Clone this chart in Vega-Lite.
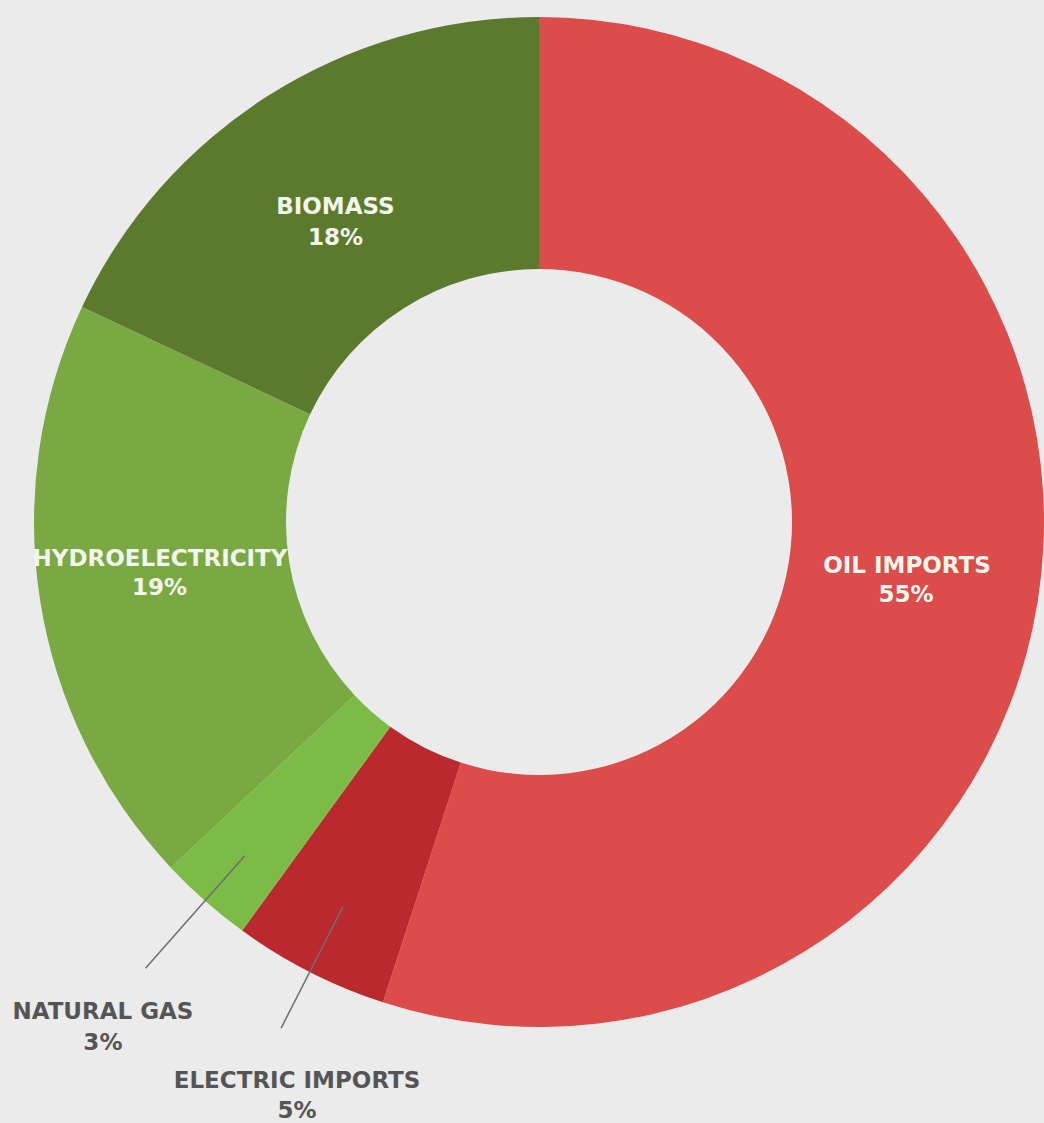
{
  "$schema": "https://vega.github.io/schema/vega-lite/v6.json",
  "autosize": "none",
  "padding": {"left": 34, "top": 0, "right": 0, "bottom": 79},
  "width": 1010,
  "height": 1044,
  "background": "#ebebeb",
  "view": {"stroke": null},
  "data": {
    "values": [
      {"source": "OIL IMPORTS", "share": 0.55, "rank": 1},
      {"source": "ELECTRIC IMPORTS", "share": 0.05, "rank": 2},
      {"source": "NATURAL GAS", "share": 0.03, "rank": 3},
      {"source": "HYDROELECTRICITY", "share": 0.19, "rank": 4},
      {"source": "BIOMASS", "share": 0.18, "rank": 5}
    ]
  },
  "encoding": {
    "theta": {"field": "share", "type": "quantitative", "stack": true},
    "order": {"field": "rank", "type": "quantitative"}
  },
  "layer": [
    {
      "mark": {"type": "arc", "innerRadius": 253, "outerRadius": 505},
      "encoding": {
        "color": {
          "field": "source",
          "type": "nominal",
          "scale": {
            "domain": ["OIL IMPORTS", "ELECTRIC IMPORTS", "NATURAL GAS", "HYDROELECTRICITY", "BIOMASS"],
            "range": ["#db4c4a", "#b9292d", "#7dbb47", "#7aa944", "#5c7a2e"]
          },
          "legend": null
        }
      }
    },
    {
      "mark": {"type": "arc", "innerRadius": 445, "outerRadius": 595, "padAngle": 2, "fillOpacity": 0, "stroke": "#6e6e6e", "strokeWidth": 1.5},
      "encoding": {
        "strokeOpacity": {"condition": {"test": "datum.rank === 3", "value": 1}, "value": 0}
      }
    },
    {
      "mark": {"type": "arc", "innerRadius": 432, "outerRadius": 568, "padAngle": 2, "fillOpacity": 0, "stroke": "#6e6e6e", "strokeWidth": 1.5},
      "encoding": {
        "strokeOpacity": {"condition": {"test": "datum.rank === 2", "value": 1}, "value": 0}
      }
    },
    {
      "mark": {"type": "text", "radius": 365, "dx": 7.5, "dy": -13, "font": "DejaVu Sans", "fontWeight": "bold", "fontSize": 23, "fill": "#f3f6ec", "baseline": "middle", "align": "center"},
      "encoding": {"text": {"condition": {"test": "datum.rank === 1", "field": "source"}, "value": ""}}
    },
    {
      "mark": {"type": "text", "radius": 365, "dx": 6.5, "dy": 16, "font": "DejaVu Sans", "fontWeight": "bold", "fontSize": 23, "fill": "#f3f6ec", "baseline": "middle", "align": "center"},
      "encoding": {"text": {"condition": {"test": "datum.rank === 1", "field": "share", "format": ".0%"}, "value": ""}}
    },
    {
      "mark": {"type": "text", "radius": 365, "dx": -18.5, "dy": -20, "font": "DejaVu Sans", "fontWeight": "bold", "fontSize": 23, "fill": "#f3f6ec", "baseline": "middle", "align": "center"},
      "encoding": {"text": {"condition": {"test": "datum.rank === 4", "field": "source"}, "value": ""}}
    },
    {
      "mark": {"type": "text", "radius": 365, "dx": -19, "dy": 9, "font": "DejaVu Sans", "fontWeight": "bold", "fontSize": 23, "fill": "#f3f6ec", "baseline": "middle", "align": "center"},
      "encoding": {"text": {"condition": {"test": "datum.rank === 4", "field": "share", "format": ".0%"}, "value": ""}}
    },
    {
      "mark": {"type": "text", "radius": 365, "dx": -8, "dy": -7, "font": "DejaVu Sans", "fontWeight": "bold", "fontSize": 23, "fill": "#f3f6ec", "baseline": "middle", "align": "center"},
      "encoding": {"text": {"condition": {"test": "datum.rank === 5", "field": "source"}, "value": ""}}
    },
    {
      "mark": {"type": "text", "radius": 365, "dx": -8, "dy": 24, "font": "DejaVu Sans", "fontWeight": "bold", "fontSize": 23, "fill": "#f3f6ec", "baseline": "middle", "align": "center"},
      "encoding": {"text": {"condition": {"test": "datum.rank === 5", "field": "share", "format": ".0%"}, "value": ""}}
    },
    {
      "mark": {"type": "text", "radius": 667, "dx": 5, "dy": -10, "font": "DejaVu Sans", "fontWeight": "bold", "fontSize": 23, "fill": "#555555", "baseline": "middle", "align": "center"},
      "encoding": {"text": {"condition": {"test": "datum.rank === 3", "field": "source"}, "value": ""}}
    },
    {
      "mark": {"type": "text", "radius": 667, "dx": 5, "dy": 21, "font": "DejaVu Sans", "fontWeight": "bold", "fontSize": 23, "fill": "#555555", "baseline": "middle", "align": "center"},
      "encoding": {"text": {"condition": {"test": "datum.rank === 3", "field": "share", "format": ".0%"}, "value": ""}}
    },
    {
      "mark": {"type": "text", "radius": 620, "dx": 39.5, "dy": 6.5, "font": "DejaVu Sans", "fontWeight": "bold", "fontSize": 23, "fill": "#555555", "baseline": "middle", "align": "center"},
      "encoding": {"text": {"condition": {"test": "datum.rank === 2", "field": "source"}, "value": ""}}
    },
    {
      "mark": {"type": "text", "radius": 620, "dx": 39.5, "dy": 37, "font": "DejaVu Sans", "fontWeight": "bold", "fontSize": 23, "fill": "#555555", "baseline": "middle", "align": "center"},
      "encoding": {"text": {"condition": {"test": "datum.rank === 2", "field": "share", "format": ".0%"}, "value": ""}}
    }
  ]
}
